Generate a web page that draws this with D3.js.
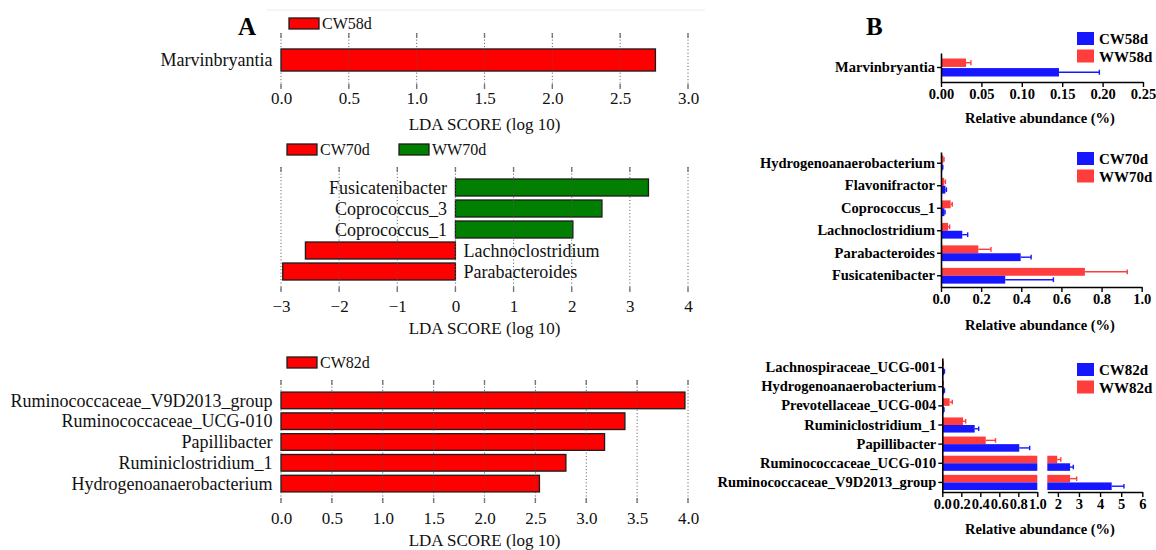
<!DOCTYPE html>
<html>
<head>
<meta charset="utf-8">
<script src="https://cdn.jsdelivr.net/npm/d3@7"></script>
<style>
  body { margin: 0; background: #fff; }
  svg { display: block; }
</style>
</head>
<body>
<svg id="chart" width="1156" height="550"></svg>
<script>
// ---------- Panel A: LEfSe LDA scores ----------
const ldaTaxa58 = ["Marvinbryantia"];
const ldaScore58 = [2.76];
const ldaTicks58 = [0, 0.5, 1, 1.5, 2, 2.5, 3];

const ldaTaxa70 = ["Fusicatenibacter", "Coprococcus_3", "Coprococcus_1", "Lachnoclostridium", "Parabacteroides"];
const ldaScore70 = [3.32, 2.52, 2.02, -2.58, -2.97];
const ldaTicks70 = [-3, -2, -1, 0, 1, 2, 3, 4];

const ldaTaxa82 = ["Ruminococcaceae_V9D2013_group", "Ruminococcaceae_UCG-010", "Papillibacter", "Ruminiclostridium_1", "Hydrogenoanaerobacterium"];
const ldaScore82 = [3.97, 3.38, 3.18, 2.80, 2.54];
const ldaTicks82 = [0, 0.5, 1, 1.5, 2, 2.5, 3, 3.5, 4];

// ---------- Panel B: relative abundance (mean + error) ----------
const abTaxa58 = ["Marvinbryantia"];
const abCW58 = [0.146], abCW58Err = [0.050];
const abWW58 = [0.031], abWW58Err = [0.006];
const abTicks58 = [0, 0.05, 0.10, 0.15, 0.20, 0.25];

const abTaxa70 = ["Hydrogenoanaerobacterium", "Flavonifractor", "Coprococcus_1", "Lachnoclostridium", "Parabacteroides", "Fusicatenibacter"];
const abCW70 = [0.007, 0.022, 0.017, 0.106, 0.397, 0.320];
const abCW70Err = [0.002, 0.005, 0.003, 0.027, 0.052, 0.240];
const abWW70 = [0.012, 0.016, 0.048, 0.035, 0.186, 0.717];
const abWW70Err = [0.003, 0.006, 0.008, 0.008, 0.063, 0.211];
const abTicks70 = [0, 0.2, 0.4, 0.6, 0.8, 1.0];

const abTaxa82 = ["Lachnospiraceae_UCG-001", "Hydrogenoanaerobacterium", "Prevotellaceae_UCG-004", "Ruminiclostridium_1", "Papillibacter", "Ruminococcaceae_UCG-010", "Ruminococcaceae_V9D2013_group"];
const abCW82 = [0.020, 0.020, 0.015, 0.341, 0.810, 2.58, 4.55];
const abCW82Err = [0.003, 0.003, 0.003, 0.042, 0.110, 0.15, 0.58];
const abWW82 = [0.008, 0.008, 0.077, 0.218, 0.457, 1.97, 2.58];
const abWW82Err = [0.002, 0.002, 0.028, 0.028, 0.103, 0.17, 0.31];
const abTicks82Low = [0, 0.2, 0.4, 0.6, 0.8, 1.0];
const abTicks82High = [2, 3, 4, 5, 6];

// ---------- shared styling ----------
const SERIF = '"Liberation Serif", "Times New Roman", Times, serif';
const RED_A = "#ff0000", GREEN_A = "#007f00";
const BLUE_B = "#1717ff", RED_B = "#ff3d3d";

const svg = d3.select("#chart");

// thin frame line above panel A
svg.append("line")
  .attr("x1", 267).attr("x2", 705).attr("y1", 10).attr("y2", 10)
  .attr("stroke", "#ececec").attr("stroke-width", 1);

// panel letters
svg.append("text").attr("x", 238).attr("y", 35).text("A")
  .attr("font-family", SERIF).attr("font-weight", "bold").attr("font-size", 25);
svg.append("text").attr("x", 866).attr("y", 35).text("B")
  .attr("font-family", SERIF).attr("font-weight", "bold").attr("font-size", 25);

// ---------- LDA bar panel ----------
function drawLda(o) {
  const g = svg.append("g").attr("font-family", SERIF).attr("fill", "#111");
  const x = d3.scaleLinear().domain(o.domain).range([281, 688]);
  const y = d3.scaleBand().domain(o.taxa).range(o.yRange)
    .paddingInner(o.pad).paddingOuter(o.pad / 2);
  const rows = o.taxa.map((t, i) => ({ taxon: t, score: o.scores[i] }));

  g.selectAll("rect.bar").data(rows).join("rect").attr("class", "bar")
    .attr("x", d => x(Math.min(0, d.score)))
    .attr("y", d => y(d.taxon))
    .attr("width", d => Math.abs(x(d.score) - x(0)))
    .attr("height", y.bandwidth())
    .attr("fill", d => d.score >= 0 ? o.posColor : o.negColor)
    .attr("stroke", "#1c1c1c").attr("stroke-width", 1.3);

  // dotted gridlines with solid end marks
  const grid = g.append("g").attr("stroke", "#555");
  grid.selectAll("line.dot").data(o.ticks).join("line").attr("class", "dot")
    .attr("x1", d => x(d)).attr("x2", d => x(d))
    .attr("y1", o.grid[0]).attr("y2", o.grid[1])
    .attr("stroke-dasharray", "1 2.3").attr("stroke-width", 1);
  grid.selectAll("line.capTop").data(o.ticks).join("line").attr("class", "capTop")
    .attr("x1", d => x(d)).attr("x2", d => x(d))
    .attr("y1", o.grid[0]).attr("y2", o.grid[0] + 5)
    .attr("stroke", "#777").attr("stroke-width", 1.4);
  grid.selectAll("line.capBot").data(o.ticks).join("line").attr("class", "capBot")
    .attr("x1", d => x(d)).attr("x2", d => x(d))
    .attr("y1", o.grid[1] - 5).attr("y2", o.grid[1])
    .attr("stroke", "#777").attr("stroke-width", 1.4);

  // taxon labels beside the zero line
  g.selectAll("text.lab").data(rows).join("text").attr("class", "lab")
    .attr("x", d => d.score >= 0 ? x(0) - 8.5 : x(0) + 8)
    .attr("y", d => y(d.taxon) + y.bandwidth() / 2)
    .attr("dy", "0.34em")
    .attr("text-anchor", d => d.score >= 0 ? "end" : "start")
    .attr("font-size", 18)
    .text(d => d.taxon);

  // x axis labels
  const axis = g.append("g").attr("transform", `translate(0,${o.tickY})`)
    .call(d3.axisBottom(x).tickValues(o.ticks).tickFormat(o.fmt).tickSize(0).tickPadding(0));
  axis.select(".domain").remove();
  axis.selectAll("text").attr("font-family", SERIF).attr("font-size", 17)
    .attr("fill", "#111").attr("dy", 0);

  g.append("text").attr("x", (x.range()[0] + x.range()[1]) / 2).attr("y", o.titleY)
    .attr("text-anchor", "middle").attr("font-size", 17).text("LDA SCORE (log 10)");

  // legend
  const lg = g.selectAll("g.leg").data(o.legend).join("g").attr("class", "leg")
    .attr("transform", d => `translate(${d.x},${o.legendY})`);
  lg.append("rect").attr("width", 30).attr("height", 11)
    .attr("fill", d => d.color).attr("stroke", "#1c1c1c").attr("stroke-width", 1.3);
  lg.append("text").attr("x", 33).attr("y", 11).attr("font-size", 16).text(d => d.name);
}

drawLda({
  taxa: ldaTaxa58, scores: ldaScore58, domain: [0, 3], ticks: ldaTicks58,
  fmt: d3.format(".1f"), yRange: [44, 76], pad: 0.31, grid: [33, 89],
  tickY: 104, titleY: 130, posColor: RED_A, negColor: RED_A,
  legendY: 18, legend: [{ name: "CW58d", color: RED_A, x: 289 }]
});

drawLda({
  taxa: ldaTaxa70, scores: ldaScore70, domain: [-3, 4], ticks: ldaTicks70,
  fmt: d3.format("d"), yRange: [177, 282], pad: 0.19, grid: [167, 292],
  tickY: 312, titleY: 334, posColor: GREEN_A, negColor: RED_A,
  legendY: 144, legend: [{ name: "CW70d", color: RED_A, x: 287 }, { name: "WW70d", color: GREEN_A, x: 399 }]
});

drawLda({
  taxa: ldaTaxa82, scores: ldaScore82, domain: [0, 4], ticks: ldaTicks82,
  fmt: d3.format(".1f"), yRange: [390, 494], pad: 0.2, grid: [380, 503],
  tickY: 524, titleY: 546, posColor: RED_A, negColor: RED_A,
  legendY: 357, legend: [{ name: "CW82d", color: RED_A, x: 287 }]
});

// ---------- relative abundance panel (optionally with a broken x axis) ----------
function drawAbundance(o) {
  const g = svg.append("g").attr("font-family", SERIF).attr("font-weight", "bold");
  const segs = o.segments.map(s => ({ ...s, scale: d3.scaleLinear().domain(s.domain).range(s.range) }));
  const x0 = segs[0].range[0];
  const y = d3.scaleBand().domain(o.taxa).range(o.yRange)
    .paddingInner(o.pad).paddingOuter(o.pad / 2);
  const sub = d3.scaleBand().domain(["WW", "CW"]).range([0, y.bandwidth()]).paddingInner(o.subPad || 0);
  const colors = { CW: BLUE_B, WW: RED_B };

  const rows = [];
  o.taxa.forEach((t, i) => {
    rows.push({ taxon: t, grp: "WW", v: o.ww[i], e: o.wwErr[i] });
    rows.push({ taxon: t, grp: "CW", v: o.cw[i], e: o.cwErr[i] });
  });

  // bars, split over the axis segments
  segs.forEach(s => {
    const [d0, d1] = s.domain;
    g.append("g").selectAll("rect").data(rows.filter(r => r.v > d0)).join("rect")
      .attr("x", s.scale(d0))
      .attr("y", r => y(r.taxon) + sub(r.grp))
      .attr("width", r => s.scale(Math.min(r.v, d1)) - s.scale(d0))
      .attr("height", sub.bandwidth())
      .attr("fill", r => colors[r.grp]);
  });

  // error bars (upper side)
  const segFor = v => segs.find(s => v <= s.domain[1]) || segs[segs.length - 1];
  const eb = g.append("g").selectAll("g").data(rows).join("g")
    .attr("stroke", r => colors[r.grp]).attr("stroke-width", 1.4);
  eb.append("line")
    .attr("x1", r => segFor(r.v).scale(r.v))
    .attr("x2", r => segFor(r.v).scale(r.v + r.e))
    .attr("y1", r => y(r.taxon) + sub(r.grp) + sub.bandwidth() / 2)
    .attr("y2", r => y(r.taxon) + sub(r.grp) + sub.bandwidth() / 2);
  eb.append("line")
    .attr("x1", r => segFor(r.v).scale(r.v + r.e))
    .attr("x2", r => segFor(r.v).scale(r.v + r.e))
    .attr("y1", r => y(r.taxon) + sub(r.grp) + sub.bandwidth() * 0.2)
    .attr("y2", r => y(r.taxon) + sub(r.grp) + sub.bandwidth() * 0.8);

  // x axis segments
  segs.forEach(s => {
    const ax = g.append("g").attr("transform", `translate(0,${o.yRange[1]})`)
      .call(d3.axisBottom(s.scale).tickValues(s.ticks).tickFormat(s.fmt).tickSize(5).tickSizeOuter(0).tickPadding(2));
    ax.attr("font-family", SERIF).attr("font-size", 14.5).attr("font-weight", "bold");
    ax.select(".domain").attr("stroke", "#000").attr("stroke-width", 1.6);
    ax.selectAll(".tick line").attr("stroke", "#000").attr("stroke-width", 1.4);
    ax.selectAll(".tick text").attr("fill", "#000");
  });

  // y axis with taxon names
  const ay = g.append("g").attr("transform", `translate(${x0},0)`)
    .call(d3.axisLeft(y).tickSize(4).tickSizeOuter(0).tickPadding(2));
  ay.attr("font-family", SERIF).attr("font-size", 14.5).attr("font-weight", "bold");
  ay.select(".domain").attr("stroke", "#000").attr("stroke-width", 1.6);
  ay.selectAll(".tick line").attr("stroke", "#000").attr("stroke-width", 1.4);
  ay.selectAll(".tick text").attr("fill", "#000");

  g.append("text").attr("x", 1040).attr("y", o.titleY).attr("text-anchor", "middle")
    .attr("font-size", 14.5).text("Relative abundance (%)");

  // legend
  const lg = g.selectAll("g.leg").data(o.legend).join("g").attr("class", "leg")
    .attr("transform", (d, i) => `translate(1077,${o.legendY + i * 17.5})`);
  lg.append("rect").attr("width", 17).attr("height", 13).attr("fill", d => d.color);
  lg.append("text").attr("x", 22).attr("y", 12).attr("font-size", 15).text(d => d.name);
}

drawAbundance({
  taxa: abTaxa58, cw: abCW58, cwErr: abCW58Err, ww: abWW58, wwErr: abWW58Err,
  segments: [{ domain: [0, 0.25], range: [941, 1143], ticks: abTicks58, fmt: d3.format(".2f") }],
  yRange: [53, 82], pad: 0.38, subPad: 0.12, titleY: 123,
  legendY: 32, legend: [{ name: "CW58d", color: BLUE_B }, { name: "WW58d", color: RED_B }]
});

drawAbundance({
  taxa: abTaxa70, cw: abCW70, cwErr: abCW70Err, ww: abWW70, wwErr: abWW70Err,
  segments: [{ domain: [0, 1], range: [941, 1141.7], ticks: abTicks70, fmt: d3.format(".1f") }],
  yRange: [152, 287], pad: 0.3, titleY: 330,
  legendY: 152, legend: [{ name: "CW70d", color: BLUE_B }, { name: "WW70d", color: RED_B }]
});

drawAbundance({
  taxa: abTaxa82, cw: abCW82, cwErr: abCW82Err, ww: abWW82, wwErr: abWW82Err,
  segments: [
    { domain: [0, 1], range: [942.3, 1037.3], ticks: abTicks82Low, fmt: d3.format(".1f") },
    { domain: [1.5, 6], range: [1047.3, 1142.3], ticks: abTicks82High, fmt: d3.format("d") }
  ],
  yRange: [358, 492], pad: 0.21, titleY: 534,
  legendY: 363, legend: [{ name: "CW82d", color: BLUE_B }, { name: "WW82d", color: RED_B }]
});
</script>
</body>
</html>
